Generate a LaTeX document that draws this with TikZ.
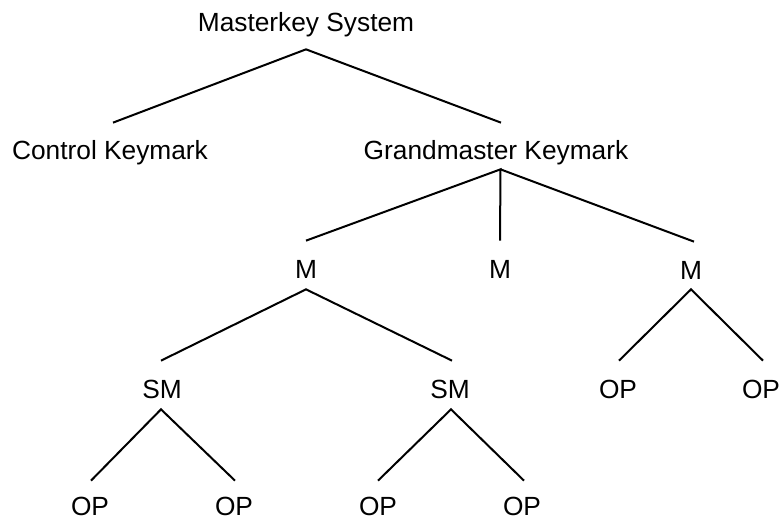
\documentclass[tikz,border=0pt]{standalone}
\usepackage{fontspec}
\setmainfont{Liberation Sans}
\begin{document}
\begin{tikzpicture}[x=1pt,y=-1pt,
  lbl/.style={inner sep=0pt,text height=18.3pt,text depth=0pt,
    font=\fontsize{26.3}{30}\selectfont},
  branch/.style={line width=2pt,line join=miter}]
\useasboundingbox (0,0) rectangle (780,521);
% tree labels
\node[lbl] (ms)  at (306,22)  {Masterkey System};
\node[lbl] (ck)  at (110,150) {Control Keymark};
\node[lbl] (gk)  at (496,150) {Grandmaster Keymark};
\node[lbl] (m1)  at (306,269) {M};
\node[lbl] (m2)  at (500,269) {M};
\node[lbl] (m3)  at (691,270) {M};
\node[lbl] (sm1) at (162,389) {SM};
\node[lbl] (sm2) at (450,389) {SM};
\node[lbl] (op1) at (90,506)  {OP};
\node[lbl] (op2) at (234,506) {OP};
\node[lbl] (op3) at (378,506) {OP};
\node[lbl] (op4) at (522,506) {OP};
\node[lbl] (op5) at (618,389) {OP};
\node[lbl] (op6) at (761,389) {OP};
% branches
\draw[branch] ([xshift=3pt,yshift=18pt]ck.north) -- ([yshift=-18pt]ms.south)
  -- ([xshift=5pt,yshift=18pt]gk.north);
\draw[branch] ([yshift=19pt]m1.north) -- ([xshift=4.5pt,yshift=-10pt]gk.south)
  -- ([yshift=19pt]m2.north);
\draw[branch] ([xshift=4.5pt,yshift=-10pt]gk.south) -- ([xshift=3pt,yshift=19pt]m3.north);
\draw[branch] ([xshift=-1pt,yshift=19pt]sm1.north) -- ([yshift=-11pt]m1.south)
  -- ([xshift=2pt,yshift=19pt]sm2.north);
\draw[branch] ([xshift=1pt,yshift=19pt]op5.north) -- ([yshift=-10pt]m3.south)
  -- ([xshift=2pt,yshift=19pt]op6.north);
\draw[branch] ([xshift=1pt,yshift=16pt]op1.north) -- ([xshift=-1pt,yshift=-11pt]sm1.south)
  -- ([xshift=1pt,yshift=16pt]op2.north);
\draw[branch] ([yshift=16pt]op3.north) -- ([xshift=1pt,yshift=-11pt]sm2.south)
  -- ([xshift=2pt,yshift=16pt]op4.north);
\end{tikzpicture}
\end{document}
